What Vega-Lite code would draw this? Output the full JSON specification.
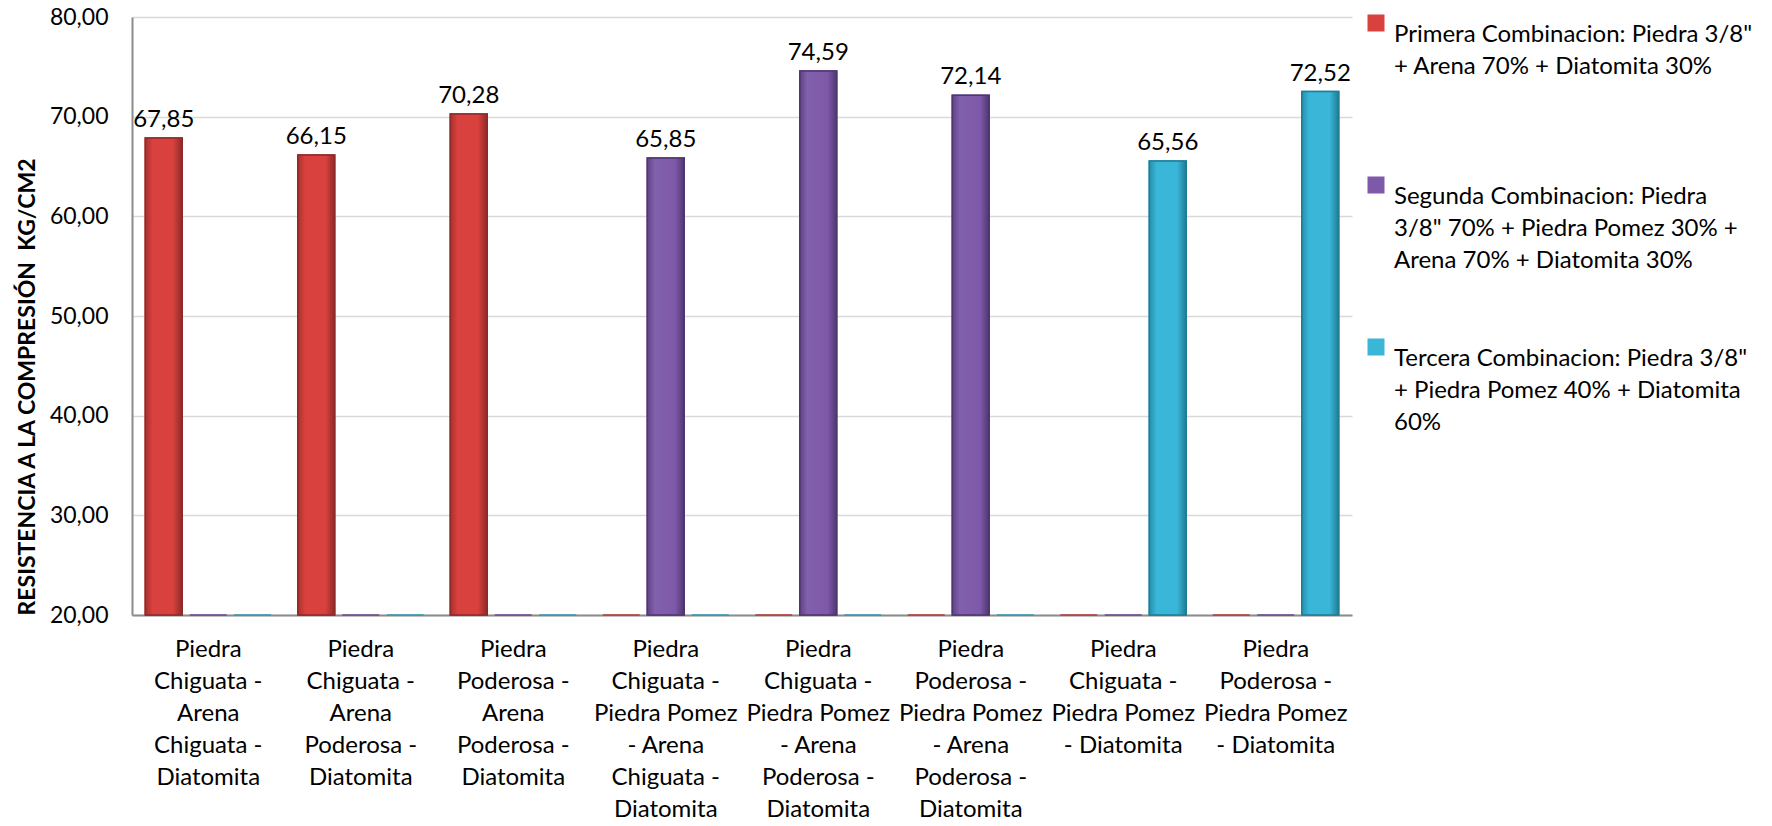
{
  "$schema": "https://vega.github.io/schema/vega-lite/v6.json",
  "autosize": {"type": "none"},
  "padding": {"left": 132, "top": 17, "right": 420, "bottom": 211},
  "width": 1220,
  "height": 598,
  "background": "white",
  "config": {
    "font": "Lato",
    "locale": {"number": {"decimal": ",", "thousands": ".", "grouping": [3], "currency": ["", ""]}},
    "view": {"stroke": null},
    "style": {"guide-label": {"lineHeight": 32}}
  },
  "data": {
    "values": [
      {"cat": "Piedra|Chiguata -|Arena|Chiguata -|Diatomita", "serie": "Primera Combinacion: Piedra 3/8\"|+ Arena 70% + Diatomita 30%| ", "valor": 67.85},
      {"cat": "Piedra|Chiguata -|Arena|Chiguata -|Diatomita", "serie": "Segunda Combinacion: Piedra|3/8\" 70% + Piedra Pomez 30% +|Arena 70% + Diatomita 30%", "valor": 0},
      {"cat": "Piedra|Chiguata -|Arena|Chiguata -|Diatomita", "serie": "Tercera Combinacion: Piedra 3/8\"|+ Piedra Pomez 40% + Diatomita|60%", "valor": 0},
      {"cat": "Piedra|Chiguata -|Arena|Poderosa -|Diatomita", "serie": "Primera Combinacion: Piedra 3/8\"|+ Arena 70% + Diatomita 30%| ", "valor": 66.15},
      {"cat": "Piedra|Chiguata -|Arena|Poderosa -|Diatomita", "serie": "Segunda Combinacion: Piedra|3/8\" 70% + Piedra Pomez 30% +|Arena 70% + Diatomita 30%", "valor": 0},
      {"cat": "Piedra|Chiguata -|Arena|Poderosa -|Diatomita", "serie": "Tercera Combinacion: Piedra 3/8\"|+ Piedra Pomez 40% + Diatomita|60%", "valor": 0},
      {"cat": "Piedra|Poderosa -|Arena|Poderosa -|Diatomita", "serie": "Primera Combinacion: Piedra 3/8\"|+ Arena 70% + Diatomita 30%| ", "valor": 70.28},
      {"cat": "Piedra|Poderosa -|Arena|Poderosa -|Diatomita", "serie": "Segunda Combinacion: Piedra|3/8\" 70% + Piedra Pomez 30% +|Arena 70% + Diatomita 30%", "valor": 0},
      {"cat": "Piedra|Poderosa -|Arena|Poderosa -|Diatomita", "serie": "Tercera Combinacion: Piedra 3/8\"|+ Piedra Pomez 40% + Diatomita|60%", "valor": 0},
      {"cat": "Piedra|Chiguata -|Piedra Pomez|- Arena|Chiguata -|Diatomita", "serie": "Primera Combinacion: Piedra 3/8\"|+ Arena 70% + Diatomita 30%| ", "valor": 0},
      {"cat": "Piedra|Chiguata -|Piedra Pomez|- Arena|Chiguata -|Diatomita", "serie": "Segunda Combinacion: Piedra|3/8\" 70% + Piedra Pomez 30% +|Arena 70% + Diatomita 30%", "valor": 65.85},
      {"cat": "Piedra|Chiguata -|Piedra Pomez|- Arena|Chiguata -|Diatomita", "serie": "Tercera Combinacion: Piedra 3/8\"|+ Piedra Pomez 40% + Diatomita|60%", "valor": 0},
      {"cat": "Piedra|Chiguata -|Piedra Pomez|- Arena|Poderosa -|Diatomita", "serie": "Primera Combinacion: Piedra 3/8\"|+ Arena 70% + Diatomita 30%| ", "valor": 0},
      {"cat": "Piedra|Chiguata -|Piedra Pomez|- Arena|Poderosa -|Diatomita", "serie": "Segunda Combinacion: Piedra|3/8\" 70% + Piedra Pomez 30% +|Arena 70% + Diatomita 30%", "valor": 74.59},
      {"cat": "Piedra|Chiguata -|Piedra Pomez|- Arena|Poderosa -|Diatomita", "serie": "Tercera Combinacion: Piedra 3/8\"|+ Piedra Pomez 40% + Diatomita|60%", "valor": 0},
      {"cat": "Piedra|Poderosa -|Piedra Pomez|- Arena|Poderosa -|Diatomita", "serie": "Primera Combinacion: Piedra 3/8\"|+ Arena 70% + Diatomita 30%| ", "valor": 0},
      {"cat": "Piedra|Poderosa -|Piedra Pomez|- Arena|Poderosa -|Diatomita", "serie": "Segunda Combinacion: Piedra|3/8\" 70% + Piedra Pomez 30% +|Arena 70% + Diatomita 30%", "valor": 72.14},
      {"cat": "Piedra|Poderosa -|Piedra Pomez|- Arena|Poderosa -|Diatomita", "serie": "Tercera Combinacion: Piedra 3/8\"|+ Piedra Pomez 40% + Diatomita|60%", "valor": 0},
      {"cat": "Piedra|Chiguata -|Piedra Pomez|- Diatomita", "serie": "Primera Combinacion: Piedra 3/8\"|+ Arena 70% + Diatomita 30%| ", "valor": 0},
      {"cat": "Piedra|Chiguata -|Piedra Pomez|- Diatomita", "serie": "Segunda Combinacion: Piedra|3/8\" 70% + Piedra Pomez 30% +|Arena 70% + Diatomita 30%", "valor": 0},
      {"cat": "Piedra|Chiguata -|Piedra Pomez|- Diatomita", "serie": "Tercera Combinacion: Piedra 3/8\"|+ Piedra Pomez 40% + Diatomita|60%", "valor": 65.56},
      {"cat": "Piedra|Poderosa -|Piedra Pomez|- Diatomita", "serie": "Primera Combinacion: Piedra 3/8\"|+ Arena 70% + Diatomita 30%| ", "valor": 0},
      {"cat": "Piedra|Poderosa -|Piedra Pomez|- Diatomita", "serie": "Segunda Combinacion: Piedra|3/8\" 70% + Piedra Pomez 30% +|Arena 70% + Diatomita 30%", "valor": 0},
      {"cat": "Piedra|Poderosa -|Piedra Pomez|- Diatomita", "serie": "Tercera Combinacion: Piedra 3/8\"|+ Piedra Pomez 40% + Diatomita|60%", "valor": 72.52}
    ]
  },
  "encoding": {
    "x": {
      "field": "cat", "type": "nominal", "sort": null,
      "scale": {"paddingInner": 0.174, "paddingOuter": 0.087},
      "axis": {
        "title": null, "labelAngle": 0, "labelExpr": "split(datum.label, '|')",
        "labelFontSize": 24, "labelLineHeight": 32, "labelColor": "#000000",
        "labelPadding": 22, "ticks": false, "domainColor": "#8c8c8c", "domainWidth": 2,
        "labelLimit": 400
      }
    },
    "xOffset": {
      "field": "serie", "type": "nominal", "sort": null,
      "scale": {"paddingInner": 0.17, "paddingOuter": 0}
    },
    "y": {
      "field": "valor", "type": "quantitative",
      "scale": {"domain": [20, 80], "zero": false, "clamp": true, "nice": false},
      "axis": {
        "title": "RESISTENCIA A LA COMPRESIÓN\u00a0 KG/CM2",
        "titleFontSize": 23, "titleFontWeight": "bold", "titleColor": "#000000",
        "titleAngle": -90, "titleAlign": "left", "titleBaseline": "middle",
        "titleX": -105, "titleY": 598,
        "values": [20, 30, 40, 50, 60, 70, 80], "format": ",.2f",
        "labelFontSize": 23, "labelColor": "#000000", "labelPadding": 24,
        "ticks": false, "domainColor": "#8c8c8c", "domainWidth": 2,
        "gridColor": "#d9d9d9", "gridWidth": 1.5
      }
    }
  },
  "layer": [
    {
      "mark": {"type": "bar", "strokeWidth": 1.5},
      "encoding": {
        "color": {
          "field": "serie", "type": "nominal", "sort": null,
          "scale": {"range": ["#d8413e", "#7f59a9", "#3ab6d8"]},
          "legend": {
            "title": null, "orient": "none", "legendX": 1232, "legendY": -6,
            "labelExpr": "split(datum.label, '|')",
            "labelFontSize": 24, "labelColor": "#000000", "labelLimit": 500,
            "labelBaseline": "top",
            "symbolType": "square", "symbolSize": 289, "symbolStrokeWidth": 0,
            "rowPadding": 62, "labelOffset": 6
          }
        },
        "stroke": {
          "field": "serie", "type": "nominal", "sort": null,
          "scale": {"range": ["#b53a37", "#6a4a90", "#2e9ab8"]},
          "legend": null
        }
      }
    },
    {
      "transform": [{"filter": "datum.valor > 0 && indexof(datum.serie, 'Primera') == 0"}],
      "mark": {"type": "bar", "strokeWidth": 1.5, "stroke": "#8e2a28",
        "color": {"gradient": "linear", "x1": 0, "y1": 0, "x2": 1, "y2": 0, "stops": [{"offset": 0, "color": "#a8302d"}, {"offset": 0.2, "color": "#d8413e"}, {"offset": 0.75, "color": "#d8413e"}, {"offset": 1, "color": "#8e2a28"}]}}
    },
    {
      "transform": [{"filter": "datum.valor > 0 && indexof(datum.serie, 'Segunda') == 0"}],
      "mark": {"type": "bar", "strokeWidth": 1.5, "stroke": "#4f3670",
        "color": {"gradient": "linear", "x1": 0, "y1": 0, "x2": 1, "y2": 0, "stops": [{"offset": 0, "color": "#5f4285"}, {"offset": 0.2, "color": "#8160ac"}, {"offset": 0.75, "color": "#7f59a9"}, {"offset": 1, "color": "#4f3670"}]}}
    },
    {
      "transform": [{"filter": "datum.valor > 0 && indexof(datum.serie, 'Tercera') == 0"}],
      "mark": {"type": "bar", "strokeWidth": 1.5, "stroke": "#1f7c96",
        "color": {"gradient": "linear", "x1": 0, "y1": 0, "x2": 1, "y2": 0, "stops": [{"offset": 0, "color": "#2690ab"}, {"offset": 0.2, "color": "#3ab6d8"}, {"offset": 0.75, "color": "#3ab6d8"}, {"offset": 1, "color": "#1f7c96"}]}}
    },
    {
      "transform": [{"filter": "datum.valor > 0"}],
      "mark": {"type": "text", "baseline": "bottom", "dy": -6, "fontSize": 24, "color": "#000000"},
      "encoding": {
        "text": {"field": "valor", "type": "quantitative", "format": ",.2f"}
      }
    }
  ]
}
